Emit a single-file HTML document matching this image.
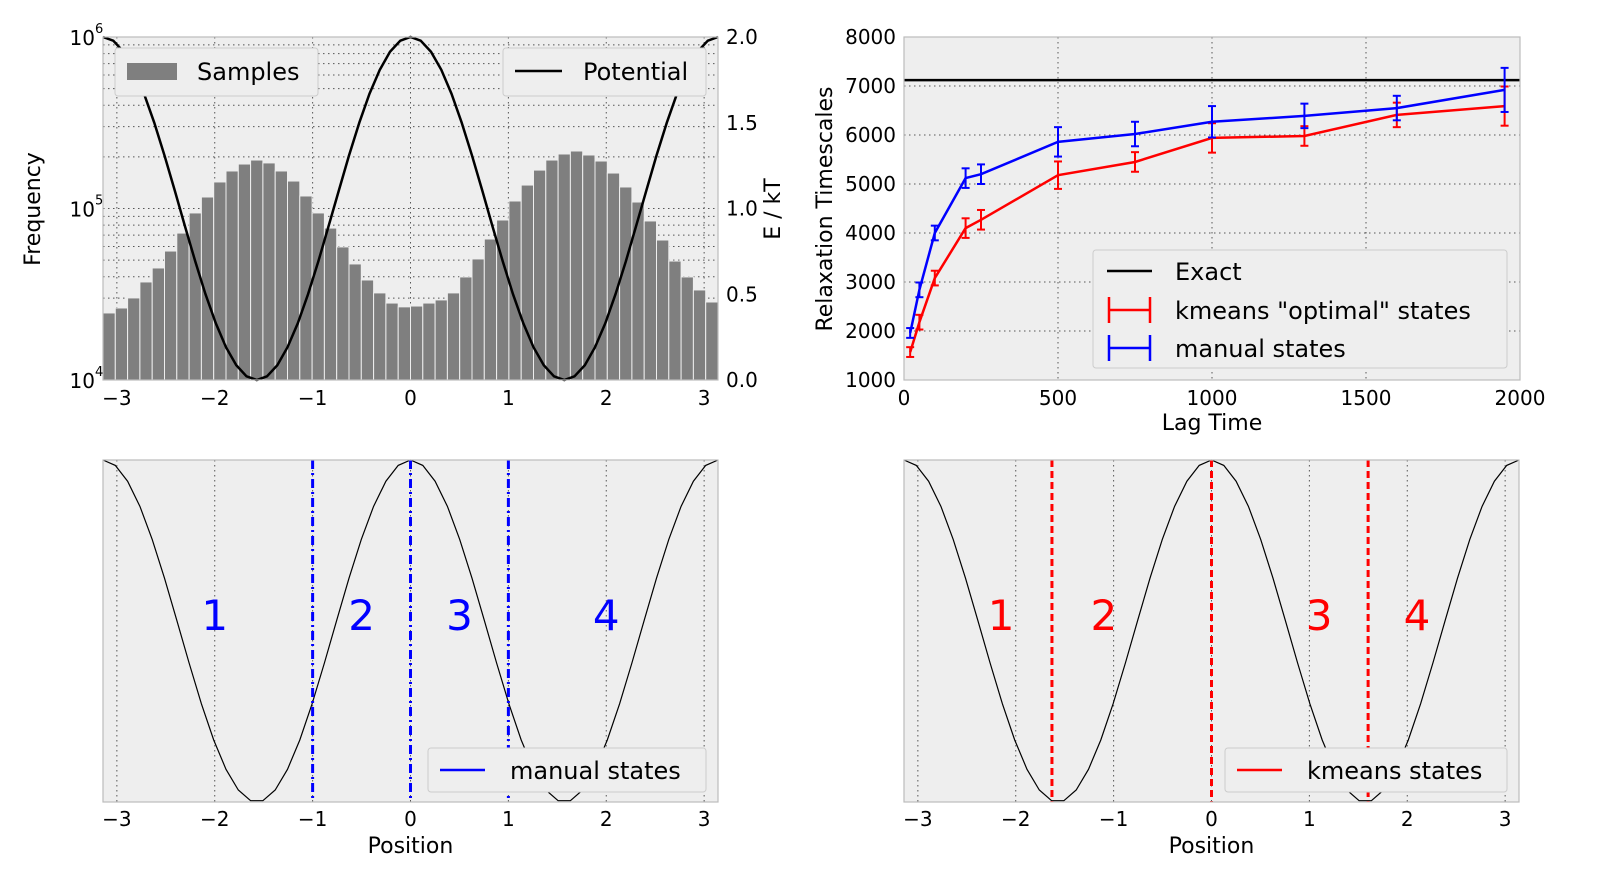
<!DOCTYPE html>
<html><head><meta charset="utf-8">
<style>
html,body{margin:0;padding:0;background:#fff;}
svg{display:block;font-family:"DejaVu Sans","Liberation Sans",sans-serif;}
</style></head>
<body>
<svg id="fig" width="1600" height="894" viewBox="0 0 1600 894" xmlns="http://www.w3.org/2000/svg"></svg>
<script>
// ---------- data ----------
const histCounts = [24600,26300,30100,37300,45000,56500,71900,94200,116700,142800,165500,181700,191700,184400,165500,144600,118300,94200,76900,59700,47500,38300,32200,28100,26700,
  27000,28100,29300,32200,39900,50800,66400,85700,110600,137000,167500,191700,207900,216400,205100,189200,161000,133500,109100,84600,65500,49400,39900,33500,28500];
const posTicks = [-3,-2,-1,0,1,2,3];
const energyTicks = [0.0,0.5,1.0,1.5,2.0];
const lagTimes = [20,50,100,200,250,500,750,1000,1300,1600,1950];
const manualTimescales = [1960,2840,4000,5120,5200,5860,6020,6270,6390,6550,6920];
const manualErr = [100,150,150,200,200,300,250,320,250,250,450];
const kmeansTimescales = [1570,2180,3080,4100,4270,5180,5450,5940,5980,6410,6590];
const kmeansErr = [100,150,150,200,200,280,200,300,200,250,400];
const exactTimescale = 7120;
const lagTicks = [0,500,1000,1500,2000];
const tsTicks = [1000,2000,3000,4000,5000,6000,7000,8000];
const manualBounds = [-1,0,1];
const kmeansBounds = [-1.63,0,1.6];
const manualLabels = [[-2,'1'],[-0.5,'2'],[0.5,'3'],[2,'4']];
const kmeansLabels = [[-2.15,'1'],[-1.1,'2'],[1.1,'3'],[2.1,'4']];

// ---------- helpers ----------
const NS='http://www.w3.org/2000/svg';
const svg=document.getElementById('fig');
function mk(tag,attrs,parent,name,inter){
  const e=document.createElementNS(NS,tag);
  for(const k in attrs) e.setAttribute(k,attrs[k]);
  
  
  (parent||svg).appendChild(e); return e;
}
function txt(x,y,s,size,anchor,parent,name,extra){
  const t=mk('text',Object.assign({x:x,y:y,'font-size':size,'text-anchor':anchor||'middle',fill:'#000'},extra||{}),parent,name,false);
  t.textContent=s; return t;
}
const PI=Math.PI;
function pot(x){return 1+Math.cos(2*x);}

function panelBg(x0,y0,x1,y1,name){
  const g=mk('g',{},svg,name,false);
  mk('rect',{x:x0,y:y0,width:x1-x0,height:y1-y0,fill:'#eeeeee'},g,'plot-background',false);
  return g;
}
function frame(g,x0,y0,x1,y1){
  mk('rect',{x:x0,y:y0,width:x1-x0,height:y1-y0,fill:'none',stroke:'#bcbcbc','stroke-width':1.2},g,'plot-frame',false);
}
const grid={stroke:'#555','stroke-width':1,'stroke-dasharray':'1.5,3.5'};

// ---------- panel 1: histogram + potential ----------
(function(){
  const x0=103,x1=718,y0=37,y1=380;
  const X=v=>x0+(v+PI)/(2*PI)*(x1-x0);
  const YL=v=>y1-(Math.log10(v)-4)/2*(y1-y0);
  const YR=v=>y1-v/2*(y1-y0);
  const g=panelBg(x0,y0,x1,y1,'histogram-panel');
  // grid
  for(let d=4;d<6;d++) for(let m=1;m<10;m++){const yy=YL(m*Math.pow(10,d)); if(m>1||d>4) mk('line',Object.assign({x1:x0,x2:x1,y1:yy,y2:yy},grid),g,'y-gridline',false);}
  posTicks.forEach(t=>mk('line',Object.assign({x1:X(t),x2:X(t),y1:y0,y2:y1},grid),g,'x-gridline',false));
  const bw=(x1-x0)/histCounts.length;
  histCounts.forEach((c,i)=>{
    const b=mk('rect',{x:x0+i*bw,y:YL(c),width:bw,height:y1-YL(c),fill:'#7f7f7f',stroke:'#eeeeee','stroke-width':1},g,'histogram-bar',false);
  });
  let d='';
  for(let i=0;i<=60;i++){const xv=-PI+2*PI*i/60; d+=(i?'L':'M')+X(xv).toFixed(1)+','+YR(pot(xv)).toFixed(1);}
  mk('path',{d:d,fill:'none',stroke:'#000','stroke-width':2.5},g,'potential-line',false);
  frame(g,x0,y0,x1,y1);
  posTicks.forEach(t=>txt(X(t),405,(t<0?'\u2212':'')+Math.abs(t),20,'middle',g,'x-tick-label'));
  [[4,'10'],[5,'10'],[6,'10']].forEach(([p])=>{
    const yy=YL(Math.pow(10,p));
    const t=txt(x0-8,yy+8,'10',20,'end',g,'y-tick-label');
    txt(x0-8,yy-4,String(p),13,'start',g,'y-tick-exponent');
  });
  energyTicks.forEach(t=>txt(x1+8,YR(t)+7,t.toFixed(1),20,'start',g,'right-y-tick-label'));
  txt(0,0,'Frequency',22,'middle',g,'y-axis-title',{transform:'translate(40,209) rotate(-90)'});
  txt(0,0,'E / kT',22,'middle',g,'right-y-axis-title',{transform:'translate(780,209) rotate(-90)'});
  const l1=mk('g',{},g,'legend-samples',false);
  mk('rect',{x:115,y:48,width:203,height:48,fill:'#eeeeee',stroke:'#cccccc',rx:3},l1,'legend-box',false);
  mk('rect',{x:127,y:63,width:50,height:17,fill:'#7f7f7f'},l1,'legend-swatch',false);
  txt(197,80,'Samples',24,'start',l1,'legend-label');
  const l2=mk('g',{},g,'legend-potential',false);
  mk('rect',{x:503,y:48,width:203,height:48,fill:'#eeeeee',stroke:'#cccccc',rx:3},l2,'legend-box',false);
  mk('line',{x1:515,x2:562,y1:71,y2:71,stroke:'#000','stroke-width':2.5},l2,'legend-line',false);
  txt(583,80,'Potential',24,'start',l2,'legend-label');
})();

// ---------- panel 2: timescales ----------
(function(){
  const x0=904,x1=1520,y0=37,y1=380;
  const X=v=>x0+v/2000*(x1-x0);
  const Y=v=>y1-(v-1000)/7000*(y1-y0);
  const g=panelBg(x0,y0,x1,y1,'timescales-panel');
  tsTicks.forEach(t=>mk('line',Object.assign({x1:x0,x2:x1,y1:Y(t),y2:Y(t)},grid),g,'y-gridline',false));
  lagTicks.forEach(t=>mk('line',Object.assign({x1:X(t),x2:X(t),y1:y0,y2:y1},grid),g,'x-gridline',false));
  mk('line',{x1:x0,x2:x1,y1:Y(exactTimescale),y2:Y(exactTimescale),stroke:'#000','stroke-width':2.5},g,'exact-line',false);
  function series(vals,errs,col,name){
    const sg=mk('g',{},g,name,false);
    mk('polyline',{points:lagTimes.map((t,i)=>X(t).toFixed(1)+','+Y(vals[i]).toFixed(1)).join(' '),fill:'none',stroke:col,'stroke-width':2.5},sg,name+'-line',false);
    lagTimes.forEach((t,i)=>{
      const xx=X(t),a=Y(vals[i]-errs[i]),b=Y(vals[i]+errs[i]);
      mk('line',{x1:xx,x2:xx,y1:a,y2:b,stroke:col,'stroke-width':2},sg,name+'-errorbar',false);
      mk('line',{x1:xx-4,x2:xx+4,y1:a,y2:a,stroke:col,'stroke-width':2},sg,name+'-errorcap',false);
      mk('line',{x1:xx-4,x2:xx+4,y1:b,y2:b,stroke:col,'stroke-width':2},sg,name+'-errorcap',false);
    });
  }
  series(kmeansTimescales,kmeansErr,'#ff0000','kmeans-series');
  series(manualTimescales,manualErr,'#0000ff','manual-series');
  frame(g,x0,y0,x1,y1);
  lagTicks.forEach(t=>txt(X(t),405,String(t),20,'middle',g,'x-tick-label'));
  tsTicks.forEach(t=>txt(x0-8,Y(t)+7,String(t),20,'end',g,'y-tick-label'));
  txt(1212,430,'Lag Time',22,'middle',g,'x-axis-title');
  txt(0,0,'Relaxation Timescales',22,'middle',g,'y-axis-title',{transform:'translate(832,209) rotate(-90)'});
  const lg=mk('g',{},g,'legend',false);
  mk('rect',{x:1093,y:250,width:414,height:118,fill:'#eeeeee',stroke:'#cccccc',rx:3},lg,'legend-box',false);
  mk('line',{x1:1107,x2:1152,y1:271,y2:271,stroke:'#000','stroke-width':2.5},lg,'legend-exact-line',false);
  txt(1175,280,'Exact',24,'start',lg,'legend-exact-label');
  [['#ff0000',310,'kmeans "optimal" states','legend-kmeans'],['#0000ff',348,'manual states','legend-manual']].forEach(([c,y,s,n])=>{
    mk('line',{x1:1109,x2:1150,y1:y,y2:y,stroke:c,'stroke-width':2.5},lg,n+'-line',false);
    mk('line',{x1:1109,x2:1109,y1:y-13,y2:y+13,stroke:c,'stroke-width':2.5},lg,n+'-cap',false);
    mk('line',{x1:1150,x2:1150,y1:y-13,y2:y+13,stroke:c,'stroke-width':2.5},lg,n+'-cap',false);
    txt(1175,y+9,s,24,'start',lg,n+'-label');
  });
})();

// ---------- panels 3 & 4: state partitions ----------
function statePanel(x0,bounds,labels,col,dash,legendText,legendX,legendW,name){
  const x1=x0+615,y0=460,y1=802;
  const X=v=>x0+(v+PI)/(2*PI)*(x1-x0);
  const Y=v=>y1-v/2*(y1-y0);
  const g=panelBg(x0,y0,x1,y1,name);
  posTicks.forEach(t=>mk('line',Object.assign({x1:X(t),x2:X(t),y1:y0,y2:y1},grid),g,'x-gridline',false));
  let d='';
  for(let i=0;i<=50;i++){const xv=-PI+2*PI*i/50; d+=(i?'L':'M')+X(xv).toFixed(1)+','+Y(pot(xv)).toFixed(1);}
  mk('path',{d:d,fill:'none',stroke:'#000','stroke-width':1.2},g,'potential-line',false);
  bounds.forEach(b=>mk('line',{x1:X(b),x2:X(b),y1:y0,y2:y1,stroke:col,'stroke-width':3,'stroke-dasharray':dash},g,'state-boundary',false));
  labels.forEach(([p,s])=>txt(X(p),630,s,42,'middle',g,'state-label',{fill:col}));
  frame(g,x0,y0,x1,y1);
  posTicks.forEach(t=>txt(X(t),826,(t<0?'\u2212':'')+Math.abs(t),20,'middle',g,'x-tick-label'));
  txt(X(0),853,'Position',22,'middle',g,'x-axis-title');
  const lg=mk('g',{},g,'legend',false);
  mk('rect',{x:legendX,y:748,width:legendW,height:44,fill:'#eeeeee',stroke:'#cccccc',rx:3},lg,'legend-box',false);
  mk('line',{x1:legendX+12,x2:legendX+57,y1:770,y2:770,stroke:col,'stroke-width':2.5},lg,'legend-line',false);
  txt(legendX+82,779,legendText,24,'start',lg,'legend-label');
}
statePanel(103,manualBounds,manualLabels,'#0000ff','9,4,2,4','manual states',428,278,'manual-states-panel');
statePanel(904,kmeansBounds,kmeansLabels,'#ff0000','7,4','kmeans states',1225,282,'kmeans-states-panel');
</script>
</body></html>
